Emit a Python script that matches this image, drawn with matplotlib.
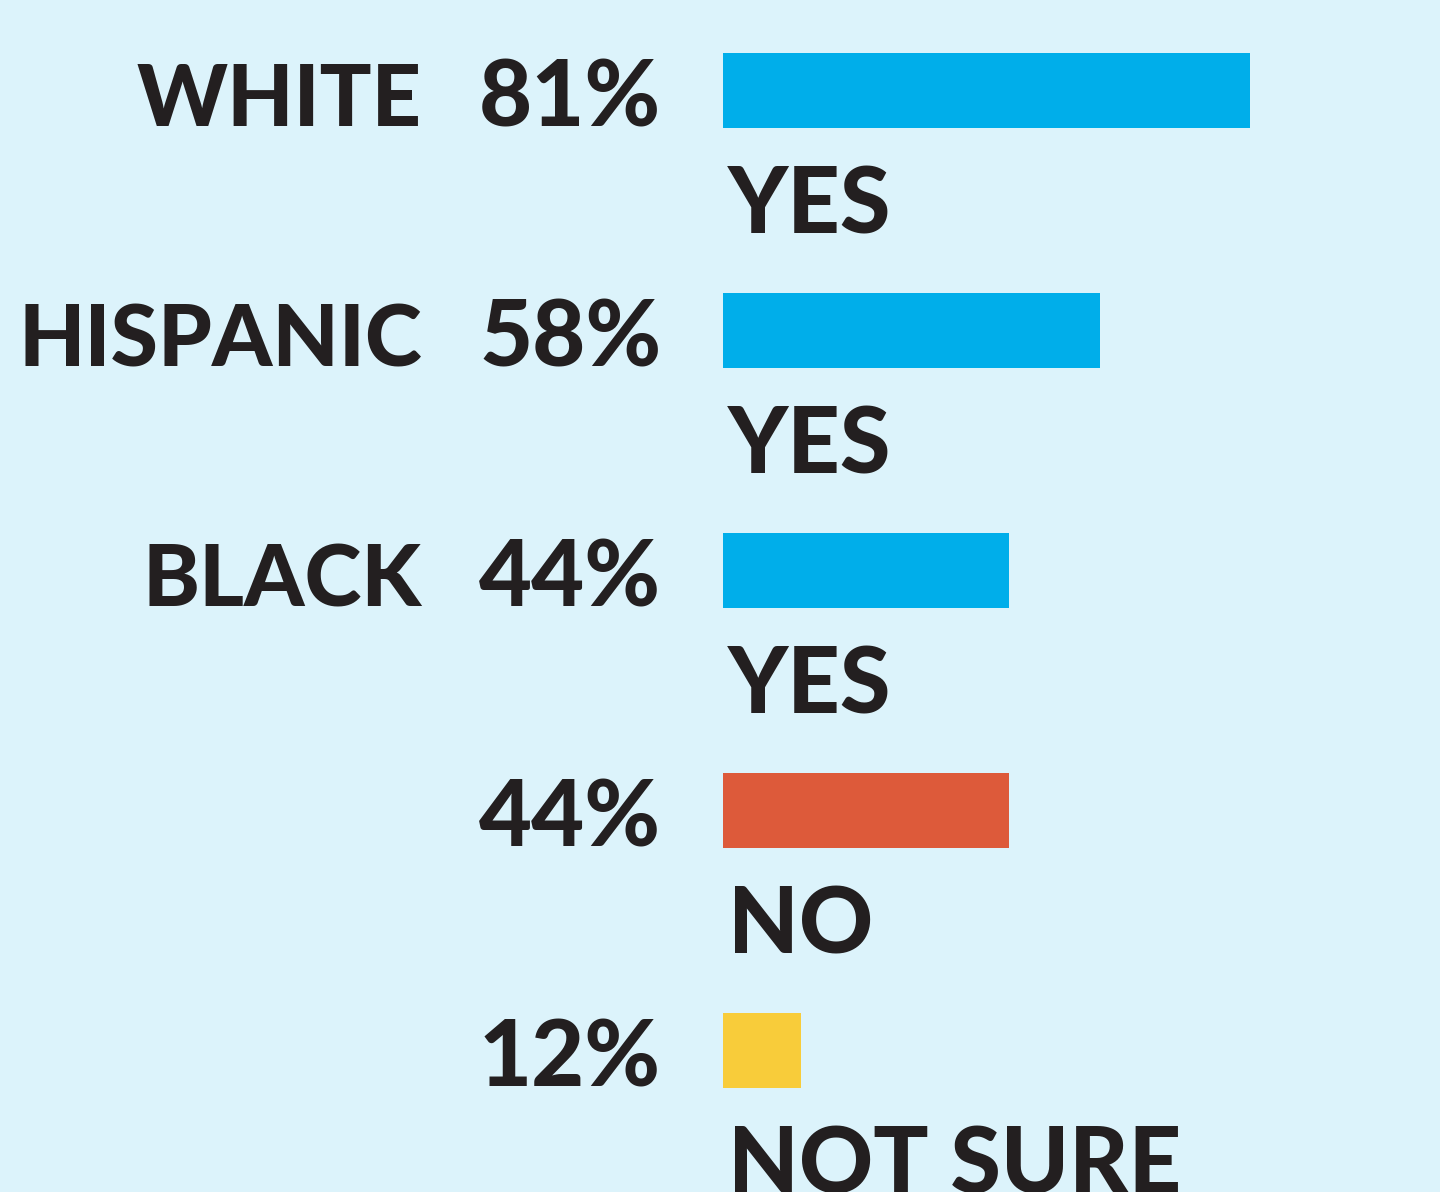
import matplotlib
matplotlib.use("Agg")
import matplotlib.pyplot as plt
import matplotlib.transforms as mtransforms

# ---- data ----
groups = ["WHITE", "HISPANIC", "BLACK", "", ""]
responses = ["YES", "YES", "YES", "NO", "NOT SURE"]
values = [81, 58, 44, 44, 12]
colors = ["#00aeea", "#00aeea", "#00aeea", "#dd5a3a", "#f8cc3a"]

BG = "#dcf3fb"
INK = "#231f20"
W, H, DPI = 1440, 1192, 100

FONT = dict(family=["Lato", "DejaVu Sans"], weight="black")
FS_GROUP = 62
FS = 66

fig = plt.figure(figsize=(W / DPI, H / DPI), dpi=DPI, facecolor=BG)

px_per_pct = 6.5
x0 = 723
row_gap = 240.0
first_center = 90.5

ax = fig.add_axes([x0 / W, 0, (W - x0) / W, 1])
ax.set_facecolor(BG)
ax.set_xlim(0, (W - x0) / px_per_pct)
ax.set_ylim((H - first_center) / row_gap, -first_center / row_gap)
ax.axis("off")

ypos = list(range(len(values)))
ax.barh(ypos, values, height=75 / row_gap, color=colors, left=0)

off_row = mtransforms.offset_copy(ax.transData, fig=fig, x=0, y=-36, units="dots")
row_tr = mtransforms.blended_transform_factory(fig.transFigure, off_row)
off_resp = mtransforms.offset_copy(ax.transData, fig=fig, x=0, y=-143, units="dots")
resp_tr = mtransforms.blended_transform_factory(fig.transFigure, off_resp)

for i, (g, r, v) in enumerate(zip(groups, responses, values)):
    if g:
        fig.text(422 / W, i, g, transform=row_tr, ha="right", va="baseline",
                 fontsize=FS_GROUP, color=INK, **FONT)
    fig.text(479 / W, i, f"{v}%", transform=row_tr, ha="left", va="baseline",
             fontsize=FS, color=INK, **FONT)
    fig.text(728 / W, i, r, transform=resp_tr, ha="left", va="baseline",
             fontsize=FS, color=INK, **FONT)

fig.savefig("out.png", dpi=DPI, facecolor=BG)
